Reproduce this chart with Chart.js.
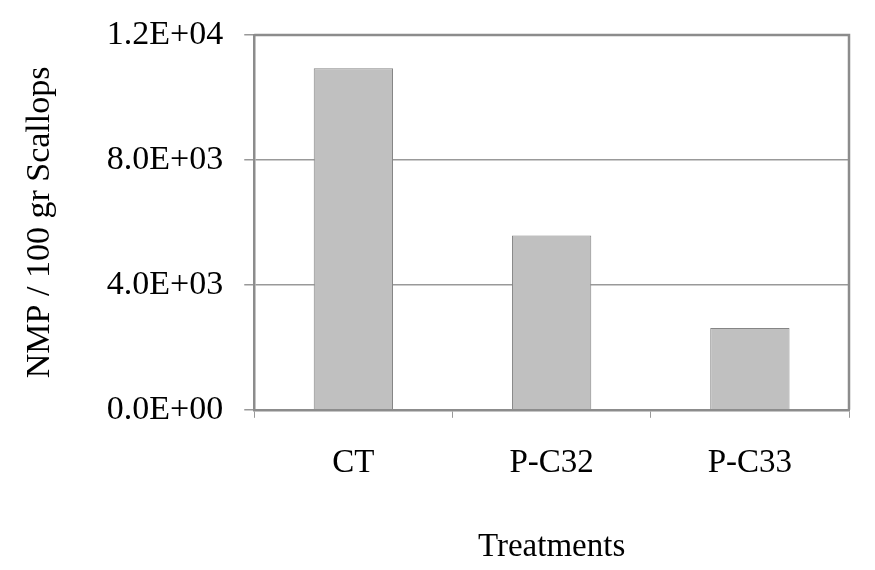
<!DOCTYPE html>
<html>
<head>
<meta charset="utf-8">
<script src="https://cdn.jsdelivr.net/npm/chart.js@4"></script>
<style>
  html, body { margin: 0; padding: 0; background: #fff; }
  #wrap { width: 875px; height: 570px; }
</style>
</head>
<body>
<div id="wrap"><canvas id="bar-chart"></canvas></div>
<script>
// values
const treatments = ["CT", "P-C32", "P-C33"];
const nmpValues = [10930, 5580, 2620];
const yTickLabels = ["0.0E+00", "4.0E+03", "8.0E+03", "1.2E+04"];

const serif = "'Liberation Serif', 'Times New Roman', serif";
const axisGray = "#8c8c8c";

// right + top frame of the plot area
const frame = {
	id: "frame",
	afterDraw(chart) {
		const {ctx, chartArea} = chart;
		ctx.save();
		ctx.strokeStyle = axisGray;
		ctx.lineWidth = 2.5;
		ctx.beginPath();
		ctx.moveTo(chartArea.left, chartArea.top);
		ctx.lineTo(chartArea.right, chartArea.top);
		ctx.lineTo(chartArea.right, chartArea.bottom);
		ctx.stroke();
		ctx.restore();
	}
};

new Chart(document.getElementById("bar-chart"), {
	type: "bar",
	data: {
		labels: treatments,
		datasets: [
			{
				data: nmpValues,
				backgroundColor: "#c0c0c0",
				borderColor: "#858585",
				borderWidth: 1,
				barPercentage: 0.4,
				categoryPercentage: 1
			}
		]
	},
	options: {
		responsive: true,
		maintainAspectRatio: false,
		animation: false,
		layout: {padding: {top: 9, right: 26, bottom: 3, left: 20}},
		plugins: {
			legend: {display: false},
			tooltip: {enabled: false}
		},
		scales: {
			x: {
				grid: {
					offset: true,
					drawOnChartArea: false,
					tickLength: 8,
					color: "#999"
				},
				border: {color: axisGray, width: 2.5},
				ticks: {
					color: "#000",
					padding: 26,
					font: {family: serif, size: 33}
				},
				title: {
					display: true,
					text: "Treatments",
					color: "#000",
					padding: {top: 18, bottom: 0},
					font: {family: serif, size: 33}
				}
			},
			y: {
				min: 0,
				max: 12000,
				grid: {
					color: "#999",
					lineWidth: 1.5,
					tickLength: 10
				},
				border: {color: axisGray, width: 2.5},
				ticks: {
					stepSize: 4000,
					color: "#000",
					padding: 21,
					font: {family: serif, size: 34, lineHeight: 0.82},
					callback: (value, index) => yTickLabels[index]
				},
				title: {
					display: true,
					text: "NMP / 100 gr Scallops",
					color: "#000",
					padding: {top: 0, bottom: 25},
					font: {family: serif, size: 34}
				}
			}
		}
	},
	plugins: [frame]
});
</script>
</body>
</html>
